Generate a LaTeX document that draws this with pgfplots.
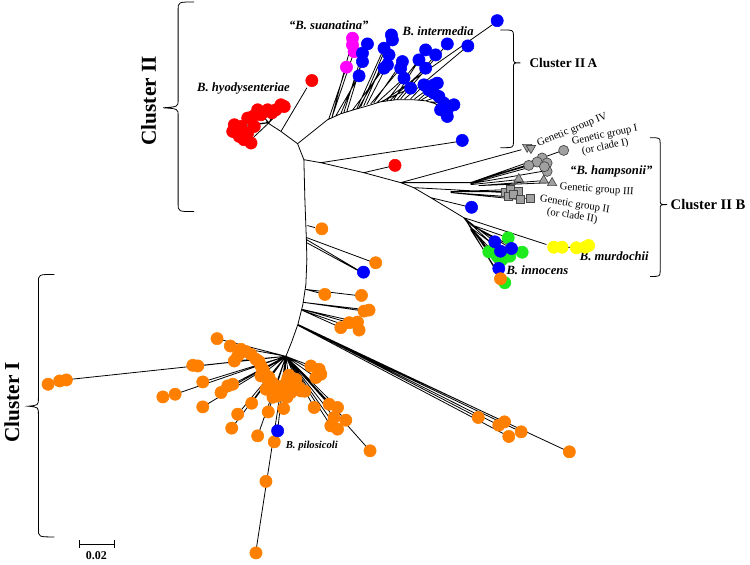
\documentclass[border=0pt]{standalone}
\usepackage{pgfplots}
\pgfplotsset{compat=1.18}
\usepackage{fontspec}
\setmainfont{Liberation Serif}
\definecolor{cor}{RGB}{255,128,0}
\definecolor{cbl}{RGB}{0,0,255}
\definecolor{crd}{RGB}{255,0,0}
\definecolor{cgr}{RGB}{30,235,30}
\definecolor{cye}{RGB}{255,255,0}
\definecolor{cmg}{RGB}{255,0,255}
\definecolor{cgy}{RGB}{160,160,160}
\definecolor{cgd}{RGB}{70,70,70}
\begin{document}
\begin{tikzpicture}
\begin{axis}[
  scale only axis, width=562.5pt, height=423.75pt,
  xmin=0, xmax=750, ymin=0, ymax=565, y dir=reverse,
  hide axis, clip=false,
  unbounded coords=jump,
]
\path (axis cs:0,0) rectangle (axis cs:750,565);
% ---------------- branches ----------------
\addplot[black, line width=0.6pt, mark=none] coordinates {
(280,131.7)(296.7,144)(303,160)(304,200)(305.5,240)(306,260)(305,285)(302,305)(297,325)(291,342)(285,357) (0,nan)
(296.7,144)(326.7,120)(340,114)(353,110)(367,106)(380,102)(395,100)(413,100)(425,101)(435,104)(445,110) (0,nan)
(265,122)(280,131.7)(306,88) (0,nan)
(268,123)(233,125) (0,nan) (268,123)(240,127) (0,nan) (268,123)(250,140) (0,nan) (268,123)(256,110) (0,nan)
(268,123)(275,110) (0,nan) (268,123)(283,107) (0,nan) (268,123)(260,115) (0,nan)
(328,119)(345.7,67.3) (0,nan) (331,118)(353.3,51.7) (0,nan) (331,118)(351.7,40) (0,nan)
(335,116)(358.3,76) (0,nan) (340,114)(361.7,61.7) (0,nan) (343,113)(361.7,53.3) (0,nan) (346,112)(366.7,44) (0,nan)
(352,110)(383.3,68.3) (0,nan) (356,109)(383.3,48.3) (0,nan) (358,108)(388.3,55) (0,nan) (360,107)(390.7,35) (0,nan)
(363,106)(391.7,40) (0,nan) (366,105)(386.7,65) (0,nan) (370,104)(400,68.3) (0,nan) (373,103)(401.7,61.7) (0,nan)
(376,103)(403.3,78.3) (0,nan) (380,102)(410,88.3) (0,nan) (383,101)(493,24) (0,nan) (386,101)(418.3,60) (0,nan)
(390,100)(425,68.3) (0,nan) (393,100)(425,50) (0,nan) (396,100)(435,55) (0,nan) (400,99)(446.7,44) (0,nan)
(404,99)(467.3,46) (0,nan) (410,99)(423.3,85) (0,nan) (414,99)(433.3,85) (0,nan) (418,100)(436.7,83.3) (0,nan)
(421,100)(433,93) (0,nan) (425,101)(438.3,96.7) (0,nan) (430,102)(443.3,103.3) (0,nan) (435,104)(440,110) (0,nan)
(440,107)(446.7,110) (0,nan) (443,109)(453.3,105) (0,nan)
(303,160)(320,163)(363,173)(400,183)(413,188)(430,198)(463,218)(490,253) (0,nan)
(320,163)(457,142) (0,nan) (363,173)(389,167) (0,nan)
(400,183)(521,150) (0,nan) (400,183)(470,183) (0,nan)
(470,183)(528,166) (0,nan) (470,183)(537,162) (0,nan) (470,183)(541,158) (0,nan) (470,184)(546,171) (0,nan)
(470,184)(546,163) (0,nan) (470,185)(518,180) (0,nan) (478,186)(543,181) (0,nan) (478,186)(551,183) (0,nan)
(545,157)(559,152) (0,nan)
(413,188)(505,193) (0,nan) (450,192)(510,190) (0,nan) (450,192)(518,192) (0,nan) (450,193)(508,197) (0,nan)
(450,193)(520,200) (0,nan) (480,195)(530,199) (0,nan)
(430,198)(467,207) (0,nan) (463,218)(546,245) (0,nan) (565,248)(588,247) (0,nan)
(463,218)(494,242) (0,nan) (463,218)(500,252) (0,nan) (465,220)(498,268) (0,nan) (465,220)(500,279) (0,nan)
(470,225)(511,249) (0,nan) (470,225)(507,238) (0,nan) (470,225)(521,252) (0,nan) (470,228)(489,252) (0,nan)
(470,228)(497,257) (0,nan) (470,228)(509,257) (0,nan) (470,230)(504,283) (0,nan)
(306.5,226)(314,228) (0,nan) (305.5,238)(370,262) (0,nan) (305.5,240)(358,271) (0,nan) (305.5,243)(357,271) (0,nan)
(305,290)(324,295) (0,nan) (305,290)(356,296) (0,nan)
(303,303)(363.3,311.7) (0,nan) (303,303)(368.3,310.7) (0,nan)
(301.5,310)(348.3,323.3) (0,nan) (301.5,310)(356.7,322.7) (0,nan) (301.5,311)(358.3,330.7) (0,nan) (301.5,311)(340,328.3) (0,nan)
(297,325)(477.7,418.3) (0,nan) (297,325)(498.3,426) (0,nan) (297,325)(504,422.7) (0,nan) (297,326)(508.3,437.3) (0,nan)
(297,326)(520.7,432.7) (0,nan) (297,326)(565,451) (0,nan)
(285,357)(70,380) (0,nan) (285,357)(196.7,366.7) (0,nan) (285,357)(216,339.3) (0,nan) (285,357)(229.3,346.7) (0,nan)
(285,357)(233.3,361.7) (0,nan) (285,357)(201.7,382.7) (0,nan) (285,357)(174,395) (0,nan) (285,357)(231.7,385) (0,nan)
(285,357)(220,393.3) (0,nan) (285,357)(201.7,407.7) (0,nan) (285,357)(250.7,404) (0,nan) (285,357)(236.7,415) (0,nan)
(285,357)(230.7,429) (0,nan) (285,357)(256.7,436.7) (0,nan) (285,357)(267.3,412.7) (0,nan) (285,357)(282.7,409.3) (0,nan)
(285,357)(255,552) (0,nan) (285,357)(313.3,408.3) (0,nan) (285,357)(328.3,405) (0,nan) (285,357)(336.7,408.3) (0,nan)
(285,357)(333.3,418.3) (0,nan) (285,357)(330,426.7) (0,nan) (285,357)(345,421) (0,nan) (285,357)(336.7,430) (0,nan)
(285,357)(366,448) (0,nan) (285,357)(310,366.7) (0,nan) (285,357)(320,375) (0,nan) (285,357)(315,378.3) (0,nan)
(285,357)(273.3,393.3) (0,nan) (285,357)(266.7,380) (0,nan) (285,357)(290,393.3) (0,nan) (285,357)(300,391.7) (0,nan)
(285,357)(263.3,373.3) (0,nan) (285,357)(276.7,431.7) (0,nan)
};
% ---------------- tips ----------------
\addplot[only marks, mark=*, mark size=4.6pt, mark options={draw=cor, fill=cor}] coordinates {
(46.7,385)(58.3,381.7)(65,380.7)(191.7,366)(196.7,366.7)(216,339.3)(229.3,346.7)(245,352.3)(236.7,356.7)(233.3,361.7)
(255,360)(260,366.7)(263.3,373.3)(266.7,380)(270,386.7)(273.3,393.3)(276.7,396.7)(260,376.7)(286.7,380)(293.3,386.7)
(300,391.7)(281.7,386.7)(290,393.3)(201.7,382.7)(161.7,397.7)(174,395)(220,393.3)(226.7,386.7)(231.7,385)(201.7,407.7)
(250.7,404)(236.7,415)(230.7,429)(256.7,436.7)(267.3,412.7)(282.7,409.3)(273.3,442.7)(265,482.3)(255,554)(313.3,408.3)
(328.3,405)(336.7,408.3)(333.3,418.3)(330,426.7)(345,421)(336.7,430)(369.3,451.7)(310,366.7)(318.3,370)(315,378.3)(320,375)
(240,350)(250,355)(258,362)(262,370)(268,378)(272,384)(276,390)(280,395)(272,398)(286,398)(278,388)(288,376)(295,380)
(298,388)(304,392)(265,390)
(321,229.3)(375,263.3)(324,295)(360.7,296)(363.3,311.7)(368.3,310.7)(348.3,323.3)(356.7,322.7)(358.3,330.7)(340,328.3)
(477.7,418.3)(498.3,426)(504,422.7)(508.3,437.3)(520.7,432.7)(569,452.7)
};
\addplot[only marks, mark=*, mark size=4.6pt, mark options={draw=crd, fill=crd}] coordinates {
(233.3,125)(231.7,131.7)(238.3,136.7)(250,143.3)(246.7,133.3)(253.3,126.7)(246.7,118.3)(256.7,110)(266.7,110)(280,105)
(283.3,106.7)(275,110)(251.7,116.7)(240,126.7)(260,115)(243,140)(236,130)(271,113)
(311,80.7)(394.3,165.7)
};
\addplot[only marks, mark=*, mark size=4.6pt, mark options={draw=cmg, fill=cmg}] coordinates {
(351.7,38.3)(351.7,45)(353.3,51.7)(345.7,67.3)
};
\addplot[only marks, mark=*, mark size=4.6pt, mark options={draw=cgr, fill=cgr}] coordinates {
(507.7,238.3)(521.7,252.7)(488.3,252.3)(496.7,256.7)(501.7,260)(509.3,256.7)(504.3,283.3)(493,250)
};
\addplot[only marks, mark=*, mark size=4.6pt, mark options={draw=cbl, fill=cbl}] coordinates {
(366.7,44)(361.7,53.3)(361.7,61.7)(358.3,76)(390.7,35)(391.7,40)(383.3,48.3)(388.3,55)(383.3,68.3)(386.7,65)
(401.7,61.7)(400,68.3)(403.3,78.3)(410,88.3)(418.3,60)(425,50)(425,68.3)(435,55)(446.7,44)(467.3,46)(496.7,20.7)
(423.3,85)(433.3,85)(436.7,83.3)(438.3,96.7)(443.3,103.3)(446.7,110)(453.3,105)(446.7,116.7)(433,93)(440,110)(428,90)
(461.7,140.7)(471,207.7)(362.7,272.7)(276.7,431.7)
(494.3,242.3)(500,251.7)(511,249)(498.3,269)
};
\addplot[only marks, mark=*, mark size=4.6pt, mark options={draw=cor, fill=cor}] coordinates {(500,279.3)};
\addplot[only marks, mark=*, mark size=4.6pt, mark options={draw=cye, fill=cye}] coordinates {
(553.3,247.7)(561.7,247.7)(576,248.3)(588.3,246)(585,247.7)
};
\addplot[only marks, mark=*, mark size=3.8pt, mark options={draw=cgd, fill=cgy, line width=0.5pt}] coordinates {
(563.3,150.7)(541.7,158.3)(536.7,162.3)(528.3,165.7)(546.7,163.3)(546.7,171.7)(544,167)
};
\addplot[only marks, mark=triangle*, mark size=4pt, mark options={draw=cgd, fill=cgy, line width=0.5pt}] coordinates {
(518.3,179.3)(543.3,180.7)(551.7,183.3)
};
\addplot[only marks, mark=triangle*, mark size=4pt, mark options={draw=cgd, fill=cgy, line width=0.5pt, rotate=180}] coordinates {
(526.7,147.3)(530.5,148.5)
};
\addplot[only marks, mark=square*, mark size=3pt, mark options={draw=cgd, fill=cgy, line width=0.5pt}] coordinates {
(505,192.7)(510,190)(518.3,191.7)(508.3,196.7)(513,195)(520,200)(530,199)
};
% ---------------- brackets & scale ----------------
\draw[line width=0.6pt] (axis cs:193,2) .. controls (axis cs:177,2) .. (axis cs:177,10) -- (axis cs:177,100)
  .. controls (axis cs:177,107) .. (axis cs:162,108) .. controls (axis cs:177,109) .. (axis cs:177,116)
  -- (axis cs:177,204) .. controls (axis cs:177,212) .. (axis cs:193,212);
\draw[line width=0.6pt] (axis cs:53,275) .. controls (axis cs:37,275) .. (axis cs:37,283) -- (axis cs:37,399)
  .. controls (axis cs:37,406) .. (axis cs:27,407) .. controls (axis cs:37,408) .. (axis cs:37,415)
  -- (axis cs:37,530) .. controls (axis cs:37,538) .. (axis cs:53,538);
\draw[line width=0.6pt] (axis cs:500,30) .. controls (axis cs:513,30) .. (axis cs:513,36) -- (axis cs:513,58)
  .. controls (axis cs:513,63) .. (axis cs:520,63) .. controls (axis cs:513,63) .. (axis cs:513,68)
  -- (axis cs:513,142) .. controls (axis cs:513,148) .. (axis cs:500,148);
\draw[line width=0.6pt] (axis cs:650,138) .. controls (axis cs:660,138) .. (axis cs:660,144) -- (axis cs:660,200)
  .. controls (axis cs:660,205) .. (axis cs:667,205) .. controls (axis cs:660,205) .. (axis cs:660,210)
  -- (axis cs:660,271) .. controls (axis cs:660,277) .. (axis cs:650,277);
\draw[line width=0.6pt] (axis cs:78.3,541) -- (axis cs:78.3,549) (axis cs:78.3,545) -- (axis cs:113.3,545)
  (axis cs:113.3,541) -- (axis cs:113.3,549);
% ---------------- text ----------------
\node[rotate=90, font=\fontsize{16}{16}\selectfont\bfseries] at (axis cs:147.5,101) {Cluster II};
\node[rotate=90, font=\fontsize{16}{16}\selectfont\bfseries] at (axis cs:10.5,403) {Cluster I};
\node[font=\fontsize{10}{10}\selectfont\bfseries] at (axis cs:563,63) {Cluster II\,A};
\node[font=\fontsize{11}{11}\selectfont\bfseries] at (axis cs:708,205) {Cluster II B};
\node[font=\fontsize{9}{9}\selectfont\bfseries] at (axis cs:95,557) {0.02};
\node[font=\fontsize{9.5}{10}\selectfont\bfseries\itshape] at (axis cs:328,25) {“B. suanatina”};
\node[font=\fontsize{9.5}{10}\selectfont\bfseries\itshape] at (axis cs:437.5,31) {B. intermedia};
\node[font=\fontsize{9.5}{10}\selectfont\bfseries\itshape] at (axis cs:242.5,89) {B. hyodysenteriae};
\node[font=\fontsize{9.5}{10}\selectfont\bfseries\itshape] at (axis cs:611,172) {“B. hampsonii”};
\node[font=\fontsize{9.5}{10}\selectfont\bfseries\itshape] at (axis cs:614,257) {B. murdochii};
\node[font=\fontsize{9.5}{10}\selectfont\bfseries\itshape] at (axis cs:537,271) {B. innocens};
\node[font=\fontsize{8}{9}\selectfont\bfseries\itshape] at (axis cs:311,447) {B. pilosicoli};
\node[font=\fontsize{8}{8}\selectfont, rotate=22, anchor=base west, inner sep=0pt] at (axis cs:538,147) {Genetic group IV};
\node[font=\fontsize{8}{8}\selectfont, rotate=12, anchor=base west, inner sep=0pt] at (axis cs:572,145) {Genetic group I};
\node[font=\fontsize{8}{8}\selectfont, rotate=12, anchor=base west, inner sep=0pt] at (axis cs:582,155) {(or clade I)};
\node[font=\fontsize{8}{8}\selectfont, rotate=-4, anchor=base west, inner sep=0pt] at (axis cs:559,190) {Genetic group III};
\node[font=\fontsize{8}{8}\selectfont, rotate=-9, anchor=base west, inner sep=0pt] at (axis cs:539,202) {Genetic group II};
\node[font=\fontsize{8}{8}\selectfont, rotate=-9, anchor=base west, inner sep=0pt] at (axis cs:546,215) {(or clade II)};
\end{axis}
\end{tikzpicture}
\end{document}
